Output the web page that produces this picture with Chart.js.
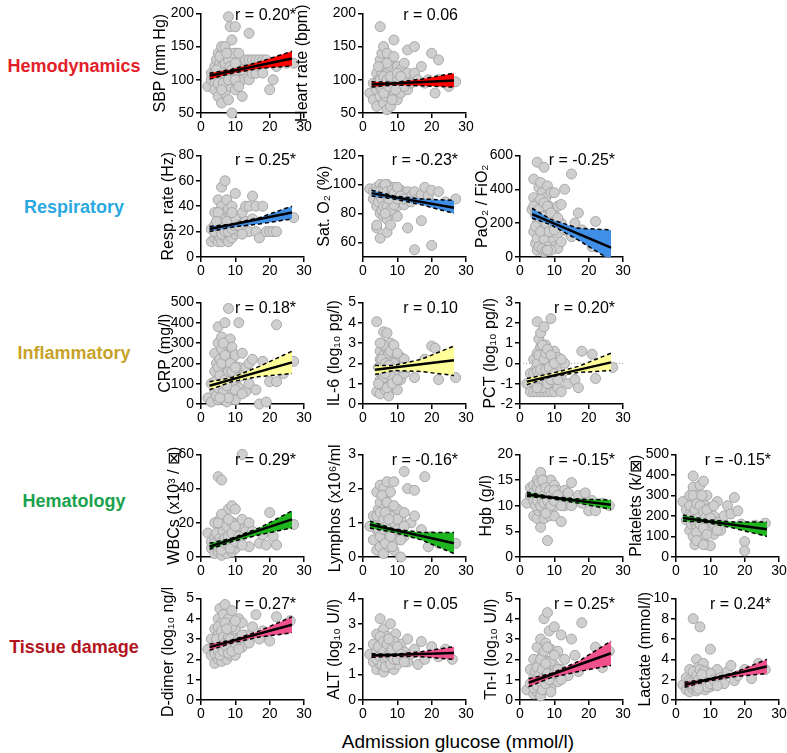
<!DOCTYPE html>
<html>
<head>
<meta charset="utf-8">
<script src="https://cdn.jsdelivr.net/npm/chart.js@4.4.0/dist/chart.umd.min.js"></script>
<style>
  body { margin: 0; background: #fff; }
  #fig { position: relative; width: 787px; height: 753px; overflow: hidden; font-family: "Liberation Sans", Arial, sans-serif; }
  #fig canvas { position: absolute; }
  .row-label { position: absolute; font-weight: bold; font-size: 18px; transform: translate(-50%, -50%); white-space: nowrap; }
  #xtitle { position: absolute; font-size: 19px; transform: translate(-50%, -50%); white-space: nowrap; }
</style>
</head>
<body>
<div id="fig"></div>
<script>
const FONT = '"Liberation Sans", Arial, sans-serif';

// x axis (same for every panel)
const glucoseTicks = [0, 10, 20, 30];
const fitEnd = 26.5;
const bandX = [9, 17, 26.5];   // band read at these x (after each panel's start x)

// ---- Hemodynamics ----
const sbpPoints = [[2,90],[3,100],[3,110],[4,95],[4,120],[4,85],[4.5,130],[5,140],[5,105],[5,75],[5,115],[5.5,125],[5.5,90],[6,140],[6,100],[6,65],[6,150],[6.5,120],[6.5,110],[7,135],[7,95],[7,80],[7,150],[7.5,105],[7.5,125],[8,70],[8,115],[8,195],[8,140],[8.5,180],[8.5,90],[9,130],[9,100],[9,50],[9,160],[9.5,120],[10,180],[10,110],[10,140],[10,85],[10.5,130],[11,100],[11,120],[12,130],[12,100],[12,75],[13,130],[13,110],[14,170],[14,130],[14,100],[15,130],[15,110],[16,130],[16,110],[17,130],[17,120],[18,110],[18,130],[19,130],[20,85],[21,100],[22,120],[25,125],[27,125],
  [4,110],[5,95],[5.5,135],[6,120],[6.5,95],[7,115],[7,125],[8,100],[8,130],[8.5,120],[9,115],[9.5,140],[10,100],[11,140],[11,90],[12,115],[6,85],[4.5,115],[7.5,140],[10,125]];
const sbpFit = [106, 132];
const sbpLow = [101, 110, 117, 121];
const sbpHigh = [110, 116, 127, 143];

const hrPoints = [[2,80],[3,95],[3,70],[4,110],[4,85],[4,60],[4.5,100],[5,130],[5,90],[5,180],[5,75],[5.5,140],[5.5,110],[6,150],[6,95],[6,65],[6,120],[6.5,85],[6.5,105],[7,140],[7,90],[7,55],[7,110],[7.5,75],[7.5,100],[8,120],[8,85],[8,60],[8.5,95],[9,160],[9,110],[9,80],[9.5,100],[10,120],[10,90],[10,70],[11,115],[11,95],[11,80],[12,100],[12,125],[13,145],[13,110],[13,85],[14,95],[15,150],[15,110],[16,100],[17,120],[18,95],[19,100],[20,140],[21,80],[22,130],[22,100],[24,95],[25,90],[27,97],
  [4,95],[5,100],[5.5,85],[6,105],[6.5,75],[7,100],[7,125],[8,95],[8,105],[8.5,70],[9,90],[9,135],[10,100],[10,110],[11,105],[12,90],[6,80],[4.5,120],[7.5,90],[9.5,85]];
const hrFit = [93, 99];
const hrLow = [89, 92, 91, 89];
const hrHigh = [97, 96, 101, 110];

// ---- Respiratory ----
const respPoints = [[3,12],[3,22],[4,15],[4,25],[4,35],[4.5,18],[5,12],[5,28],[5,45],[5,20],[5.5,32],[5.5,15],[6,55],[6,25],[6,40],[6,12],[6.5,30],[6.5,20],[7,60],[7,35],[7,15],[7,25],[7.5,45],[7.5,20],[8,30],[8,12],[8,38],[8.5,22],[9,28],[9,15],[9,40],[10,50],[10,25],[10,18],[11,30],[11,20],[12,35],[12,22],[13,28],[13,40],[14,40],[14,20],[15,48],[15,30],[16,20],[16,40],[17,15],[18,40],[19,20],[20,20],[21,20],[22,20],[25,35],[27,31],
  [4,20],[5,24],[5.5,22],[6,18],[6,30],[6.5,25],[7,20],[7,30],[8,25],[8,20],[8.5,32],[9,22],[9.5,25],[10,30],[11,25],[12,18],[5,35],[7.5,28],[4.5,28],[9,35]];
const respFit = [22, 35];
const respLow = [20, 23.5, 26, 30];
const respHigh = [24, 26, 31, 40];

const satPoints = [[2,97],[3,95],[3,90],[4,98],[4,85],[4,70],[4,72],[4.5,93],[5,100],[5,88],[5,63],[5,80],[5.5,96],[5.5,82],[6,99],[6,92],[6,78],[6.5,95],[6.5,86],[7,100],[7,90],[7,67],[7,76],[7.5,94],[7.5,84],[8,97],[8,88],[8,72],[8.5,92],[9,98],[9,90],[9,80],[9.5,95],[10,93],[10,85],[10,78],[11,96],[11,88],[12,94],[12,86],[13,95],[13,70],[14,92],[14,88],[15,55],[15,95],[16,90],[17,75],[17,93],[18,98],[19,92],[20,58],[20,96],[22,95],[24,88],[27,90],
  [4,95],[4.5,88],[5,95],[5.5,90],[6,95],[6,85],[6.5,100],[7,95],[7,85],[8,92],[8,82],[8.5,96],[9,94],[9,86],[10,98],[10,90],[11,92],[12,90],[6.5,80],[7.5,90]];
const satFit = [94, 84];
const satLow = [92, 90, 86, 80];
const satHigh = [96, 92, 90, 89];

const pafPoints = [[3.5,280],[4,460],[4,150],[4,350],[4.5,80],[4.5,250],[5,560],[5,320],[5,200],[5,40],[5.5,410],[5.5,120],[6,300],[6,60],[6,440],[6,220],[6.5,380],[6.5,100],[7,530],[7,260],[7,30],[7,170],[7.5,350],[7.5,80],[8,420],[8,240],[8,130],[8.5,300],[8.5,50],[9,380],[9,180],[9,90],[10,380],[10,250],[10,60],[11,300],[11,140],[11,50],[12,310],[12,200],[12,90],[13,400],[13,160],[14,150],[15,490],[15,120],[16,200],[17,260],[18,160],[20,100],[21,60],[22,210],[24,110],[25,50],
  [4,300],[4.5,180],[5,250],[5,110],[5.5,280],[6,340],[6,150],[6.5,240],[7,320],[7,100],[7.5,200],[8,300],[8,60],[8.5,150],[9,260],[9,40],[10,160],[11,230],[5.5,60],[6.5,50],[7.5,40],[8,40]];
const pafFit = [253, 55];
const pafLow = [229, 190, 100, -20];
const pafHigh = [288, 222, 170, 160];

// ---- Inflammatory ----
const crpPoints = [[2,30],[3,100],[3,10],[4,160],[4,60],[4,250],[4.5,200],[5,380],[5,120],[5,20],[5,300],[5.5,80],[5.5,220],[6,330],[6,150],[6,40],[6,270],[6.5,100],[6.5,200],[7,400],[7,180],[7,60],[7,300],[7.5,130],[7.5,10],[8,470],[8,240],[8,90],[8.5,320],[8.5,160],[9,210],[9,50],[9,280],[10,120],[10,240],[10,20],[11,400],[11,180],[11,80],[12,140],[12,250],[13,180],[13,60],[14,200],[14,100],[15,220],[16,70],[17,0],[18,210],[19,10],[20,110],[22,390],[22,110],[24,150],[27,210],
  [4,110],[4.5,40],[5,180],[5,80],[5.5,140],[6,200],[6,100],[6.5,60],[6.5,300],[7,120],[7,240],[8,160],[8,30],[8.5,200],[9,110],[9,160],[10,70],[10,180],[11,130],[12,50],[5.5,30],[7.5,90]];
const crpFit = [90, 205];
const crpLow = [70, 110, 135, 150];
const crpHigh = [110, 130, 185, 260];

const il6Points = [[4,4.05],[4,0.6],[4.5,1.8],[5,2.6],[5,1.2],[5,0.5],[5,2.2],[5.5,3.0],[5.5,1.5],[6,3.55],[6,0.9],[6,2.4],[6,1.7],[6.5,2.9],[6.5,0.7],[7,3.5],[7,2.0],[7,1.1],[7,2.7],[7.5,1.5],[7.5,0.4],[8,3.0],[8,2.2],[8,1.0],[8.5,1.8],[8.5,2.8],[9,2.5],[9,1.3],[9,0.8],[10,2.0],[10,0.7],[10,1.6],[11,2.3],[11,1.2],[12,2.2],[12,1.5],[13,1.8],[15,1.3],[18,2.2],[20,2.85],[21,2.75],[22,1.2],[27,1.3],
  [5,1.8],[5.5,2.2],[6,1.3],[6,2.9],[6.5,2.0],[7,1.6],[7,0.8],[7.5,2.5],[8,1.4],[8,2.6],[8.5,1.0],[9,2.0],[9,2.9],[10,1.2],[10,2.5],[11,1.8],[5,3.0],[4.5,1.0],[7.5,1.9],[6.5,1.5]];
const il6Fit = [1.68, 2.15];
const il6Low = [1.45, 1.65, 1.6, 1.4];
const il6High = [1.9, 1.9, 2.2, 2.85];

const pctPoints = [[2,-1.0],[3,-1.4],[3,-0.5],[4,-1.4],[4,0.2],[4,-0.9],[4.5,-0.3],[5,2.05],[5,-1.4],[5,0.5],[5,-0.8],[5.5,1.2],[5.5,-1.1],[6,1.5],[6,0.0],[6,-1.4],[6,0.8],[6.5,-0.6],[6.5,0.3],[7,1.8],[7,-1.4],[7,-0.2],[7,0.6],[7.5,-1.0],[7.5,0.9],[8,-1.4],[8,0.1],[8,-0.7],[8.5,0.5],[8.5,-1.2],[9,2.2],[9,-0.4],[9,-1.4],[9.5,0.2],[10,-0.9],[10,0.6],[10,-1.4],[11,-0.4],[11,0.3],[11,-1.2],[12,-0.6],[12,-1.4],[13,0.0],[14,-1.0],[16,-0.8],[17,-1.2],[18,0.6],[21,0.45],[22,-0.75],[27,-0.2],
  [4,-0.5],[4.5,-1.0],[5,0.0],[5,-0.4],[5.5,0.4],[5.5,-0.6],[6,-0.3],[6,-0.9],[6.5,0.9],[6.5,-1.2],[7,0.2],[7,-0.8],[7.5,-0.3],[7.5,0.5],[8,0.7],[8,-1.0],[8.5,-0.2],[9,0.4],[9,-0.8],[10,0.0],[10,-0.5],[11,-0.8],[12,0.2],[5,-1.2]];
const pctFit = [-0.9, 0.05];
const pctLow = [-1.05, -0.65, -0.45, -0.35];
const pctHigh = [-0.75, -0.5, -0.15, 0.5];

// ---- Hematology ----
const wbcPoints = [[2,14],[3,5],[3,9],[4,2],[4,12],[4,20],[4.5,7],[5,47],[5,3],[5,15],[5,10],[5.5,22],[5.5,6],[6,45],[6,12],[6,1],[6,18],[6.5,8],[6.5,25],[7,4],[7,14],[7,20],[7.5,10],[7.5,2],[8,28],[8,16],[8,6],[8.5,12],[9,30],[9,9],[9,3],[9.5,20],[10,28],[10,14],[10,5],[11,18],[11,8],[12,60],[12,22],[12,12],[13,15],[14,20],[14,6],[15,15],[17,8],[18,13],[19,7],[20,26],[21,12],[22,7],[27,19],
  [4,8],[4.5,14],[5,6],[5,20],[5.5,11],[6,4],[6,9],[6.5,15],[7,8],[7,11],[7.5,18],[8,9],[8,12],[8.5,5],[9,14],[9,20],[10,9],[10,18],[11,12],[12,7],[6,25],[8,22]];
const wbcFit = [6, 22];
const wbcLow = [4.5, 9, 13, 17];
const wbcHigh = [8, 11, 17, 27];

const lymPoints = [[2,0.9],[3,1.2],[3,0.5],[4,1.9],[4,0.8],[4,0.2],[4.5,1.4],[5,2.1],[5,1.0],[5,0.3],[5,1.6],[5.5,0.7],[5.5,1.2],[6,2.0],[6,0.5],[6,1.4],[6,0.1],[6.5,0.9],[6.5,1.7],[7,2.2],[7,0.6],[7,1.1],[7.5,0.3],[7.5,1.5],[8,1.9],[8,0.8],[8,0.4],[8.5,1.2],[9,2.2],[9,0.7],[9,0.2],[9.5,1.0],[10,1.4],[10,0.5],[11,0.0],[11,1.1],[11,0.8],[12,2.5],[12,1.3],[12,0.6],[13,2.0],[14,1.0],[15,1.95],[15,1.2],[17,0.8],[18,2.35],[19,0.3],[20,0.6],[22,0.4],[24,0.55],[27,0.4],
  [4,1.2],[4.5,0.8],[5,0.6],[5,1.3],[5.5,1.8],[6,0.8],[6,1.1],[6.5,0.4],[7,0.9],[7,1.6],[7.5,0.8],[8,1.2],[8,0.6],[8.5,0.3],[9,1.0],[9,1.5],[10,0.8],[10,1.1],[11,0.5],[12,0.9],[6.5,1.3],[7.5,1.1]];
const lymFit = [0.95, 0.4];
const lymLow = [0.85, 0.72, 0.5, 0.1];
const lymHigh = [1.05, 0.82, 0.72, 0.72];

const hgbPoints = [[2,10.5],[3,12],[3,13.5],[4,11],[4,8],[4,14],[4.5,12.5],[5,15],[5,10],[5,12],[5,7.5],[5.5,13],[5.5,9],[6,16.5],[6,5.8],[6,11.5],[6,14],[6.5,10],[6.5,12.5],[7,15],[7,9],[7,13],[7,7.5],[7.5,11],[8,3.2],[8,14],[8,10],[8,12],[8.5,8],[9,15],[9,11],[9,13],[9.5,9.5],[10,12],[10,14],[10,8],[11,11],[11,13],[12,6.9],[12,12],[13,13],[13,10],[14,12.5],[15,14.5],[15,10],[17,12],[18,10.5],[19,12.5],[20,9],[21,11],[22,9],[24,10.5],[26,10],
  [4,12.5],[4.5,10],[5,13.5],[5,11],[5.5,14.5],[6,10],[6,13],[6.5,11],[6.5,15],[7,12],[7,10.5],[7.5,13.5],[8,11],[8,9],[8.5,13],[9,12],[9,10],[10,11],[10,13],[11,12],[12,10],[7.5,8.5]];
const hgbFit = [12.2, 10.2];
const hgbLow = [11.8, 11.4, 10.5, 9.3];
const hgbHigh = [12.6, 11.8, 11.3, 11.1];

const pltPoints = [[2,270],[3,180],[3,230],[4,130],[4,300],[4,210],[4.5,160],[5,395],[5,250],[5,100],[5,340],[5.5,190],[5.5,60],[6,300],[6,150],[6,220],[6.5,270],[6.5,110],[7,350],[7,200],[7,80],[7.5,240],[7.5,130],[8,370],[8,180],[8,100],[8.5,250],[9,300],[9,160],[9,60],[9.5,210],[10,55],[10,240],[10,150],[11,200],[11,110],[12,270],[12,170],[13,130],[14,200],[15,250],[16,210],[17,290],[18,225],[19,160],[20,75],[20,30],[23,155],[26,165],
  [4,250],[4.5,200],[5,180],[5,300],[5.5,230],[6,260],[6,120],[6.5,190],[7,250],[7,160],[7.5,300],[8,220],[8,140],[8.5,190],[9,230],[9,110],[10,190],[11,250],[11,160],[12,130],[6,80],[8,60]];
const pltFit = [190, 135];
const pltLow = [175, 168, 140, 100];
const pltHigh = [205, 182, 170, 170];

// ---- Tissue damage ----
const ddPoints = [[2,2.5],[3,2.2],[3,3.0],[4,1.8],[4,2.7],[4,3.5],[4.5,2.4],[5,4.0],[5,2.0],[5,3.2],[5,2.6],[5.5,4.5],[5.5,2.9],[6,3.8],[6,2.2],[6,3.1],[6,1.9],[6.5,4.2],[6.5,2.7],[7,4.7],[7,3.4],[7,2.3],[7.5,3.0],[7.5,2.0],[8,4.0],[8,2.6],[8,3.6],[8.5,2.2],[9,3.3],[9,2.8],[9,4.4],[9.5,2.5],[10,3.5],[10,2.2],[11,3.0],[11,4.0],[12,2.6],[12,3.8],[13,3.2],[14,2.8],[15,3.6],[16,4.2],[17,3.0],[18,3.4],[20,2.9],[22,4.1],[24,3.5],[26,3.9],
  [4,2.3],[4.5,3.0],[5,2.4],[5,3.6],[5.5,2.2],[6,2.7],[6,3.4],[6.5,2.4],[6.5,3.1],[7,2.8],[7,3.8],[7.5,2.6],[8,2.3],[8,3.1],[8.5,3.0],[9,2.4],[9,3.6],[10,2.8],[10,3.9],[11,2.5],[12,3.2],[7.5,3.5]];
const ddFit = [2.6, 3.7];
const ddLow = [2.45, 2.8, 3.1, 3.3];
const ddHigh = [2.75, 2.95, 3.4, 4.1];

const altPoints = [[2,1.8],[3,1.5],[3,2.2],[4,1.2],[4,1.9],[4,2.6],[4.5,1.6],[5,3.2],[5,1.4],[5,2.0],[5.5,1.8],[5.5,2.4],[6,1.1],[6,2.8],[6,1.7],[6.5,2.1],[7,1.5],[7,2.5],[7,1.9],[7.5,1.3],[8,2.2],[8,1.7],[8,3.0],[8.5,1.5],[9,2.0],[9,1.2],[9.5,2.6],[10,1.8],[10,1.4],[11,2.2],[11,1.6],[12,1.9],[13,2.4],[13,1.5],[14,1.8],[15,2.0],[16,1.4],[17,2.3],[18,1.6],[20,2.1],[22,1.7],[24,2.0],[26,1.6],
  [4,1.6],[4.5,2.1],[5,1.7],[5,2.5],[5.5,1.4],[6,1.9],[6,2.3],[6.5,1.6],[6.5,1.3],[7,1.7],[7,2.2],[7.5,1.8],[8,1.4],[8,1.9],[8.5,2.0],[9,1.6],[9,2.3],[10,1.6],[10,2.1],[11,1.8],[12,1.5],[7.5,2.4]];
const altFit = [1.75, 1.85];
const altLow = [1.68, 1.72, 1.7, 1.6];
const altHigh = [1.82, 1.8, 1.9, 2.1];

const tniPoints = [[2,0.5],[3,0.8],[3,1.5],[4,0.3],[4,1.1],[4,2.0],[4.5,0.6],[5,2.6],[5,1.0],[5,0.4],[5.5,1.8],[5.5,0.7],[6,3.0],[6,1.3],[6,0.2],[6.5,2.2],[6.5,0.9],[7,4.0],[7,1.6],[7,0.5],[7.5,2.8],[7.5,1.2],[8,4.3],[8,1.9],[8,0.8],[8.5,3.4],[9,1.4],[9,2.5],[9,0.6],[10,3.6],[10,1.7],[10,1.0],[11,2.4],[11,0.9],[12,3.2],[12,1.5],[13,2.0],[14,1.2],[15,3.0],[16,2.2],[17,1.4],[18,3.8],[20,1.8],[22,2.6],[24,1.6],[26,2.4],
  [4,0.6],[4.5,1.4],[5,1.6],[5,0.7],[5.5,1.2],[6,0.9],[6,2.0],[6.5,0.5],[6.5,1.5],[7,1.1],[7,2.4],[7.5,0.8],[8,1.3],[8,2.6],[8.5,1.0],[9,1.9],[9,0.4],[10,1.3],[10,2.2],[11,1.5],[12,1.0],[7.5,1.8]];
const tniFit = [0.85, 2.3];
const tniLow = [0.65, 1.1, 1.4, 1.7];
const tniHigh = [1.05, 1.3, 1.9, 2.9];

const lacPoints = [[2,1.5],[3,1.0],[3,2.2],[4,0.8],[4,1.6],[4,3.0],[4.5,1.3],[5,8.0],[5,2.0],[5,1.1],[5.5,2.6],[5.5,1.4],[6,4.0],[6,1.8],[6,0.9],[6.5,3.2],[6.5,1.5],[7,7.2],[7,2.4],[7,1.2],[7.5,1.9],[8,3.6],[8,1.4],[8,2.2],[8.5,1.0],[9,2.8],[9,1.7],[10,5.0],[10,2.0],[10,1.3],[11,2.6],[11,1.5],[12,3.0],[12,1.8],[13,2.2],[14,1.6],[15,2.8],[16,3.4],[17,1.9],[18,2.4],[20,3.0],[22,2.1],[24,3.6],[26,3.0],
  [4,2.0],[4.5,1.8],[5,1.5],[5,2.8],[5.5,1.9],[6,1.2],[6,2.4],[6.5,2.0],[7,1.6],[7,3.0],[7.5,1.4],[8,1.8],[8,2.8],[8.5,1.6],[9,2.2],[9,1.3],[10,1.6],[10,2.6],[11,2.0],[12,1.4],[6.5,1.1],[7.5,2.5]];
const lacFit = [1.5, 3.3];
const lacLow = [1.25, 1.85, 2.3, 2.6];
const lacHigh = [1.75, 2.05, 2.7, 4.0];

// ---- groups ----
const groups = [
  { name: 'Hemodynamics', color: '#e3202a', band: '#ff0000' },
  { name: 'Respiratory', color: '#2aa9e0', band: '#3f8fe6' },
  { name: 'Inflammatory', color: '#c8a228', band: '#ffff99' },
  { name: 'Hematology', color: '#1aa14c', band: '#1fb51f' },
  { name: 'Tissue damage', color: '#b3151d', band: '#f0508c' }
];

const panels = [
  { row:0, col:0, title:'SBP (mm Hg)', r:'r = 0.20*', min:50, max:200, ticks:[50,100,150,200], x0:2.5, pts:sbpPoints, fit:sbpFit, low:sbpLow, high:sbpHigh },
  { row:0, col:1, title:'Heart rate (bpm)', r:'r = 0.06', min:50, max:200, ticks:[50,100,150,200], x0:2.5, pts:hrPoints, fit:hrFit, low:hrLow, high:hrHigh },
  { row:1, col:0, title:'Resp. rate (Hz)', r:'r = 0.25*', min:0, max:80, ticks:[0,20,40,60,80], x0:2.5, pts:respPoints, fit:respFit, low:respLow, high:respHigh },
  { row:1, col:1, title:'Sat. O\u2082 (%)', r:'r = -0.23*', min:50, max:120, ticks:[60,80,100,120], x0:2.5, pts:satPoints, fit:satFit, low:satLow, high:satHigh },
  { row:1, col:2, title:'PaO\u2082 / FiO\u2082', r:'r = -0.25*', min:0, max:600, ticks:[0,200,400,600], x0:3.5, pts:pafPoints, fit:pafFit, low:pafLow, high:pafHigh },
  { row:2, col:0, title:'CRP (mg/l)', r:'r = 0.18*', min:0, max:500, ticks:[0,100,200,300,400,500], x0:2.5, pts:crpPoints, fit:crpFit, low:crpLow, high:crpHigh },
  { row:2, col:1, title:'IL-6 (log\u2081\u2080 pg/l)', r:'r = 0.10', min:0, max:5, ticks:[0,1,2,3,4,5], x0:3.5, pts:il6Points, fit:il6Fit, low:il6Low, high:il6High },
  { row:2, col:2, title:'PCT (log\u2081\u2080 pg/l)', r:'r = 0.20*', min:-2, max:3, ticks:[-2,-1,0,1,2,3], x0:2, pts:pctPoints, fit:pctFit, low:pctLow, high:pctHigh, zeroLine:true },
  { row:3, col:0, title:'WBCs (x10\u00b3 / \u22a0)', r:'r = 0.29*', min:0, max:60, ticks:[0,20,40,60], x0:2.5, pts:wbcPoints, fit:wbcFit, low:wbcLow, high:wbcHigh },
  { row:3, col:1, title:'Lymphos (x10\u2076/ml)', r:'r = -0.16*', min:0, max:3, ticks:[0,1,2,3], x0:2, pts:lymPoints, fit:lymFit, low:lymLow, high:lymHigh },
  { row:3, col:2, title:'Hgb (g/l)', r:'r = -0.15*', min:0, max:20, ticks:[0,5,10,15,20], x0:2, pts:hgbPoints, fit:hgbFit, low:hgbLow, high:hgbHigh },
  { row:3, col:3, title:'Platelets (k/\u22a0)', r:'r = -0.15*', min:0, max:500, ticks:[0,100,200,300,400,500], x0:2, pts:pltPoints, fit:pltFit, low:pltLow, high:pltHigh },
  { row:4, col:0, title:'D-dimer (log\u2081\u2080 ng/l)', r:'r = 0.27*', min:0, max:5, ticks:[0,1,2,3,4,5], x0:2.5, pts:ddPoints, fit:ddFit, low:ddLow, high:ddHigh },
  { row:4, col:1, title:'ALT (log\u2081\u2080 U/l)', r:'r = 0.05', min:0, max:4, ticks:[0,1,2,3,4], x0:2.5, pts:altPoints, fit:altFit, low:altLow, high:altHigh },
  { row:4, col:2, title:'Tn-I (log\u2081\u2080 U/l)', r:'r = 0.25*', min:0, max:5, ticks:[0,1,2,3,4,5], x0:2.5, pts:tniPoints, fit:tniFit, low:tniLow, high:tniHigh },
  { row:4, col:3, title:'Lactate (mmol/l)', r:'r = 0.24*', min:0, max:10, ticks:[0,2,4,6,8,10], x0:2.5, pts:lacPoints, fit:lacFit, low:lacLow, high:lacHigh }
];

// layout (pixels)
const colAxisX = [201, 363, 520, 676];
const rowTop = [13, 155, 302, 454, 598];
const rowBottom = [113, 257, 404, 557, 700];
const plotW = 103;
const titleGap = [[40,60],[32,38,37],[35,28,29],[26,27,33,39],[32,28,28,30]];
const rowLabelY = [66, 207, 353, 501, 647];
const rowLabelX = 74;
const rDy = [2, 5, 6, 6, 6];

// draws the rotated y title and the "r = ..." note
const panelText = {
  id: 'panelText',
  afterDatasetsDraw(chart, args, opts) {
    const { ctx, chartArea: a } = chart;
    ctx.save();
    ctx.font = '16px ' + FONT;
    ctx.fillStyle = '#000';
    ctx.textAlign = 'right';
    ctx.textBaseline = 'middle';
    ctx.fillText(opts.r, a.right - 8, a.top + opts.dy);
    ctx.translate(a.left - opts.gap, (a.top + a.bottom) / 2);
    ctx.rotate(-Math.PI / 2);
    ctx.textAlign = 'center';
    ctx.fillText(opts.title, 0, 0);
    ctx.restore();
  }
};

const fig = document.getElementById('fig');

groups.forEach((g, i) => {
  const d = document.createElement('div');
  d.className = 'row-label';
  d.textContent = g.name;
  d.style.color = g.color;
  d.style.left = rowLabelX + 'px';
  d.style.top = rowLabelY[i] + 'px';
  fig.appendChild(d);
});

const xt = document.createElement('div');
xt.id = 'xtitle';
xt.textContent = 'Admission glucose (mmol/l)';
xt.style.left = '458px';
xt.style.top = '742px';
fig.appendChild(xt);

function axisStyle() {
  return {
    grid: { drawOnChartArea: false, drawTicks: true, tickLength: 5, color: '#000', lineWidth: 1.5 },
    border: { display: true, color: '#000', width: 1.5 },
  };
}

panels.forEach(p => {
  const gap = titleGap[p.row][p.col];
  const W = gap + 12;
  const top = rowTop[p.row], bottom = rowBottom[p.row];
  const padTop = 10, padRight = 14, xH = 22;
  const cv = document.createElement('canvas');
  cv.width = W + plotW + padRight;
  cv.height = padTop + (bottom - top) + xH;
  cv.style.left = (colAxisX[p.col] - W) + 'px';
  cv.style.top = (top - padTop) + 'px';
  fig.appendChild(cv);

  const band = groups[p.row].band;
  const bx = [p.x0].concat(bandX);
  const datasets = [
    { type: 'line', data: [{ x: p.x0, y: p.fit[0] }, { x: fitEnd, y: p.fit[1] }], borderColor: '#000', borderWidth: 2.5, pointRadius: 0, fill: false },
    { type: 'line', data: bx.map((x, i) => ({ x, y: p.high[i] })), borderColor: '#000', borderWidth: 1.5, borderDash: [4, 3], pointRadius: 0, fill: false },
    { type: 'line', data: bx.map((x, i) => ({ x, y: p.low[i] })), borderColor: '#000', borderWidth: 1.5, borderDash: [4, 3], pointRadius: 0, fill: 1, backgroundColor: band },
    { type: 'scatter', data: p.pts.map(([x, y]) => ({ x, y })), pointRadius: 5, pointHoverRadius: 5, backgroundColor: '#cfcfcf', borderColor: '#a8a8a8', borderWidth: 1, clip: false }
  ];
  if (p.zeroLine) {
    datasets.push({ type: 'line', data: [{ x: 0, y: 0 }, { x: 30, y: 0 }], borderColor: '#999', borderWidth: 1, borderDash: [1, 2], pointRadius: 0, fill: false });
  }

  new Chart(cv, {
    type: 'scatter',
    data: { datasets },
    plugins: [panelText],
    options: {
      responsive: false,
      animation: false,
      devicePixelRatio: 1,
      layout: { padding: { top: padTop, right: padRight, left: 0, bottom: 0 } },
      plugins: {
        legend: { display: false },
        tooltip: { enabled: false },
        panelText: { r: p.r, dy: rDy[p.row], title: p.title, gap: gap }
      },
      scales: {
        x: Object.assign(axisStyle(), {
          type: 'linear', min: 0, max: 30,
          afterBuildTicks: s => { s.ticks = glucoseTicks.map(v => ({ value: v })); },
          afterFit: s => { s.height = xH; },
          ticks: { color: '#000', font: { size: 14, family: FONT }, padding: 1, maxRotation: 0, autoSkip: false }
        }),
        y: Object.assign(axisStyle(), {
          type: 'linear', min: p.min, max: p.max,
          afterBuildTicks: s => { s.ticks = p.ticks.map(v => ({ value: v })); },
          afterFit: s => { s.width = W; },
          ticks: { color: '#000', font: { size: 14, family: FONT }, padding: 2, autoSkip: false }
        })
      }
    }
  });
});
</script>
</body>
</html>
